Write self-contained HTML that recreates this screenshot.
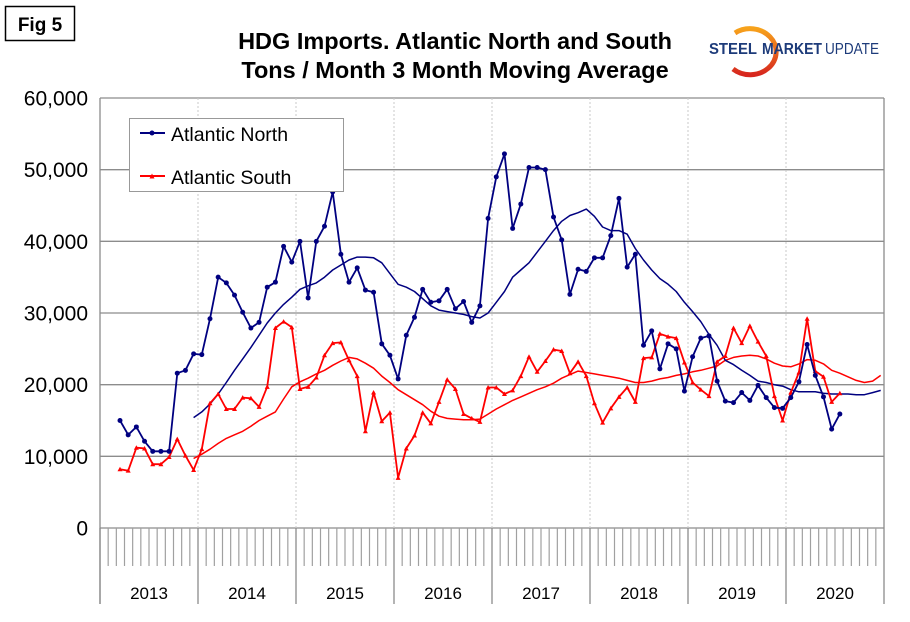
<!DOCTYPE html>
<html><head><meta charset="utf-8"><style>
body{margin:0;background:#fff;}
svg{display:block;font-family:"Liberation Sans",Arial,sans-serif;}
</style></head><body>
<svg width="910" height="622" viewBox="0 0 910 622">
<defs><linearGradient id="arcg" x1="0" y1="0" x2="0" y2="1"><stop offset="0" stop-color="#f7a21b"/><stop offset="1" stop-color="#d7261e"/></linearGradient></defs>
<rect x="0" y="0" width="910" height="622" fill="#fff"/>
<g>
<rect x="5.5" y="6.5" width="69" height="34" fill="#fff" stroke="#000" stroke-width="1.5"/>
<text x="40" y="31" font-size="19" font-weight="bold" text-anchor="middle">Fig 5</text>
</g>
<text x="455" y="49" font-size="23.5" font-weight="bold" text-anchor="middle">HDG Imports. Atlantic North and South</text>
<text x="455" y="78" font-size="23.5" font-weight="bold" text-anchor="middle">Tons / Month 3 Month Moving Average</text>
<g>
<path d="M735,33 A26,23 0 1 1 733,69" fill="none" stroke="url(#arcg)" stroke-width="5"/>
<text x="709" y="54" font-size="15.5" font-weight="bold" fill="#1d3b7a" textLength="48" lengthAdjust="spacingAndGlyphs">STEEL</text>
<text x="762" y="54" font-size="15.5" font-weight="bold" fill="#1d3b7a" textLength="60" lengthAdjust="spacingAndGlyphs">MARKET</text>
<text x="825" y="54" font-size="15.5" fill="#1d3b7a" textLength="54" lengthAdjust="spacingAndGlyphs">UPDATE</text>
</g>
<g id="grid"></g>
<g id="axes"></g>
<g id="series"></g>
<g>
<rect x="129.5" y="118.5" width="214" height="73" fill="#fff" stroke="#999" stroke-width="1"/>
<line x1="140" y1="133" x2="165" y2="133" stroke="#000080" stroke-width="2"/>
<circle cx="152" cy="133" r="2.5" fill="#000080"/>
<text x="171" y="141" font-size="19.5">Atlantic North</text>
<line x1="140" y1="176" x2="165" y2="176" stroke="#ff0000" stroke-width="2"/>
<path d="M149.5,178.5 L152,173.5 L154.5,178.5 Z" fill="#ff0000"/>
<text x="171" y="184" font-size="19.5">Atlantic South</text>
</g>
</svg>
<script>
const yTicks=[0,10000,20000,30000,40000,50000,60000];
const yTickLabels=["0","10,000","20,000","30,000","40,000","50,000","60,000"];
const years=["2013","2014","2015","2016","2017","2018","2019","2020"];
const northValues=[15.0,13.0,14.1,12.1,10.7,10.7,10.7,21.6,22.0,24.3,24.2,29.2,35.0,34.2,32.5,30.1,27.9,28.7,33.6,34.3,39.3,37.1,40.0,32.1,40.0,42.1,46.9,38.2,34.3,36.3,33.2,32.9,25.7,24.1,20.8,26.9,29.4,33.3,31.5,31.7,33.3,30.6,31.6,28.7,31.0,43.2,49.0,52.2,41.8,45.2,50.3,50.3,50.0,43.4,40.2,32.6,36.1,35.8,37.7,37.7,40.8,46.0,36.4,38.2,25.5,27.5,22.2,25.7,25.0,19.1,23.9,26.5,26.8,20.5,17.7,17.5,18.9,17.8,19.9,18.2,16.8,16.7,18.2,20.4,25.6,21.3,18.3,13.8,15.9];
const southValues=[8.2,8.0,11.2,11.1,8.9,8.9,9.9,12.4,10.1,8.1,11.0,17.4,18.7,16.6,16.6,18.2,18.1,16.9,19.7,27.9,28.8,28.0,19.4,19.7,21.0,24.1,25.8,25.9,23.4,21.2,13.5,18.9,14.9,16.1,7.0,11.1,12.9,16.1,14.6,17.6,20.7,19.4,15.9,15.3,14.8,19.6,19.6,18.7,19.2,21.2,23.9,21.8,23.3,24.9,24.7,21.6,23.2,21.2,17.4,14.7,16.7,18.3,19.6,17.6,23.7,23.8,27.1,26.7,26.5,23.1,20.3,19.3,18.4,23.2,24.0,27.9,25.8,28.2,26.0,24.0,18.4,15.0,18.9,21.7,29.2,21.9,21.1,17.6,18.8];
const maStart=9;
const northMA=[15.4,16.2,17.3,18.7,20.3,22.0,23.6,25.2,26.9,28.6,30.0,31.2,32.2,33.3,33.8,34.2,35.0,36.0,36.7,37.4,37.8,37.8,37.7,37.0,35.5,34.0,33.6,33.0,32.0,31.0,30.4,30.2,30.0,29.8,29.5,29.3,30.0,31.5,33.0,35.0,36.0,37.0,38.5,40.0,41.5,42.8,43.6,44.0,44.5,43.5,42.0,41.5,41.5,41.0,39.0,37.4,36.0,34.8,34.0,33.0,31.5,30.2,28.8,27.0,25.5,23.4,22.8,22.0,21.3,20.5,20.3,20.0,19.8,19.3,19.0,19.0,19.0,18.8,18.7,18.7,18.7,18.6,18.6,18.9,19.2];
const southMA=[9.7,10.3,11.0,11.8,12.5,13.0,13.5,14.2,15.0,15.6,16.2,18.0,19.7,20.4,20.9,21.5,22.0,22.7,23.3,23.8,23.6,23.0,22.3,21.2,20.3,19.3,18.6,17.9,17.2,16.3,15.6,15.3,15.2,15.1,15.1,15.2,15.9,16.6,17.2,17.8,18.3,18.8,19.3,19.7,20.2,20.9,21.4,21.9,21.7,21.5,21.3,21.1,20.9,20.6,20.3,20.3,20.5,20.8,21.0,21.3,21.5,21.8,22.0,22.3,22.6,23.4,23.8,24.0,24.1,24.0,23.6,23.0,22.6,22.5,22.9,23.5,23.4,22.9,22.0,21.6,21.1,20.6,20.3,20.5,21.3];

const NS="http://www.w3.org/2000/svg";
const L=100,R=884,T=98,B=528,monthW=(R-L)/96;
const yScale=v=>B-(v/60000)*(B-T);
const xIdx=i=>120+i*8.18;
function mk(tag,attrs,parent){const e=document.createElementNS(NS,tag);for(const k in attrs)e.setAttribute(k,attrs[k]);parent.appendChild(e);return e;}
const grid=document.getElementById('grid'),axes=document.getElementById('axes'),series=document.getElementById('series');
yTicks.forEach((t,k)=>{
  const y=yScale(t);
  const gl=mk('line',{x1:L,x2:R,y1:y,y2:y,stroke:'#8c8c8c','stroke-width':1.3},grid);
  
  
  const tl=mk('text',{x:88,y:y+7.5,'font-size':21,'text-anchor':'end',fill:'#000'},axes);
  tl.textContent=yTickLabels[k];
  
  
});
years.forEach((yr,k)=>{
  const x0=L+k*12*monthW;
  if(k>0){const d=mk('line',{x1:x0,x2:x0,y1:T,y2:B,stroke:'#c8c8c8','stroke-width':1,'stroke-dasharray':'2,2'},grid);
  
  }
  const yl=mk('line',{x1:x0,x2:x0,y1:B,y2:604,stroke:'#8c8c8c','stroke-width':1.3},axes);
  
  
  const lab=mk('text',{x:x0+6*monthW,y:599,'font-size':17,'text-anchor':'middle'},axes);
  lab.textContent=yr;
  
  
});
for(let m=1;m<96;m++){if(m%12===0)continue;const x=L+m*monthW;mk('line',{x1:x,x2:x,y1:B,y2:566,stroke:'#a0a0a0','stroke-width':1.2},axes);}
mk('line',{x1:R,x2:R,y1:T,y2:B,stroke:'#8c8c8c','stroke-width':1.3},axes);
mk('line',{x1:L,x2:L,y1:T,y2:604,stroke:'#8c8c8c','stroke-width':1.3},axes);
mk('line',{x1:R,x2:R,y1:B,y2:604,stroke:'#8c8c8c','stroke-width':1.3},axes);
function line(vals,start,color,w,name){
  const pts=vals.map((v,i)=>xIdx(i+start).toFixed(1)+','+yScale(v*1000).toFixed(1)).join(' ');
  const p=mk('polyline',{points:pts,fill:'none',stroke:color,'stroke-width':w,'stroke-linejoin':'round'},series);
  
  
}
line(southMA,maStart,'#ff0000',1.5,'south-moving-average');
line(northMA,maStart,'#000080',1.5,'north-moving-average');
line(southValues,0,'#ff0000',1.8,'south-line');
southValues.forEach((v,i)=>{const x=xIdx(i),y=yScale(v*1000);
  const m=mk('path',{d:`M${x-2.5},${y+2} L${x},${y-2.5} L${x+2.5},${y+2} Z`,fill:'#ff0000'},series);
  
  });
line(northValues,0,'#000080',1.8,'north-line');
northValues.forEach((v,i)=>{
  const c=mk('circle',{cx:xIdx(i),cy:yScale(v*1000),r:2.5,fill:'#000080'},series);
  
  });
</script>
</body></html>
